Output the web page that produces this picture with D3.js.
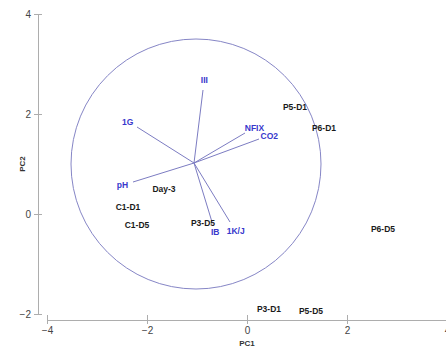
<!DOCTYPE html>
<html><head><meta charset="utf-8">
<script src="https://cdn.jsdelivr.net/npm/d3@7"></script>
<style>body{margin:0;background:#fff}svg{display:block}</style>
</head><body><div id="chart"></div>
<script>
// Sample scores (PC1, PC2)
const sampleNames = ["P5-D1","P6-D1","P6-D5","P3-D1","P5-D5","Day-3","C1-D1","C1-D5","P3-D5"];
const samplePC1 = [0.96, 1.54, 2.72, 0.44, 1.28, -1.66, -2.38, -2.2, -0.88];
const samplePC2 = [2.14, 1.72, -0.3, -1.9, -1.94, 0.5, 0.14, -0.22, -0.18];
// Variable loading vectors (end points, PC1/PC2 space)
const varNames = ["III","1G","NFIX","CO2","pH","IB","1K/J"];
const varPC1 = [-0.88, -2.2, -0.04, 0.24, -2.28, -0.7, -0.34];
const varPC2 = [2.48, 1.74, 1.62, 1.5, 0.64, -0.16, -0.16];
const vecOrigin = [-1.06, 1.02];
const circleCenter = [-1.02, 1.0];
const circleRadius = 2.5;
const xTicks = [-4, -2, 0, 2, 4];
const yTicks = [-2, 0, 2, 4];

const W = 446, H = 354;
const FONT = "Liberation Sans, Arial, sans-serif";
const svg = d3.select("#chart").append("svg").attr("width", W).attr("height", H);
const x = d3.scaleLinear().domain([-4, 4]).range([47, 447]);
const y = d3.scaleLinear().domain([-2, 4]).range([314, 14]);
const axisColor = "#adadad";

// Y axis
const gy = svg.append("g").attr("transform", "translate(38,0)")
  .call(d3.axisLeft(y).tickValues(yTicks).tickSize(0).tickPadding(7).tickFormat(d3.format("d")));
gy.select(".domain").attr("stroke", axisColor);
gy.selectAll(".tick line").remove();
gy.selectAll(".tick").append("line").attr("x1", -4).attr("x2", 4).attr("stroke", axisColor);
gy.selectAll("text").attr("font-family", FONT).attr("font-size", 10).attr("fill", "#444");

// X axis
const gx = svg.append("g").attr("transform", "translate(0,320)")
  .call(d3.axisBottom(x).tickValues(xTicks).tickSize(0).tickPadding(7).tickFormat(d3.format("d")));
gx.select(".domain").attr("stroke", axisColor);
gx.selectAll(".tick line").remove();
gx.selectAll(".tick").append("line").attr("y1", -5).attr("y2", 4).attr("stroke", axisColor);
gx.selectAll("text").attr("font-family", FONT).attr("font-size", 10).attr("fill", "#444");

// Axis titles
svg.append("text").attr("x", x(0)).attr("y", 346).attr("text-anchor", "middle")
  .attr("font-family", FONT).attr("font-size", 8).attr("font-weight", "bold")
  .attr("fill", "#333").text("PC1");
svg.append("text").attr("transform", `translate(25,${y(1)}) rotate(-90)`).attr("text-anchor", "middle")
  .attr("font-family", FONT).attr("font-size", 8).attr("font-weight", "bold")
  .attr("fill", "#333").text("PC2");

// Correlation circle
svg.append("ellipse")
  .attr("cx", x(circleCenter[0])).attr("cy", y(circleCenter[1]))
  .attr("rx", x(circleCenter[0] + circleRadius) - x(circleCenter[0]))
  .attr("ry", y(circleCenter[1]) - y(circleCenter[1] + circleRadius))
  .attr("fill", "none").attr("stroke", "#8686c6").attr("stroke-width", 1);

// Vectors
const ox = x(vecOrigin[0]), oy = y(vecOrigin[1]);
const vecs = varNames.map((n, i) => {
  const ex = x(varPC1[i]), ey = y(varPC2[i]);
  const dx = ex - ox, dy = ey - oy, L = Math.hypot(dx, dy);
  return {name: n, ex, ey, ux: dx / L, uy: dy / L};
});
svg.append("g").selectAll("line").data(vecs).join("line")
  .attr("x1", ox).attr("y1", oy).attr("x2", d => d.ex).attr("y2", d => d.ey)
  .attr("stroke", "#7c7cc2").attr("stroke-width", 1);
svg.append("g").selectAll("text").data(vecs).join("text")
  .attr("x", d => d.ex + d.ux * 11)
  .attr("y", d => d.ey + d.uy * 10)
  .attr("text-anchor", "middle").attr("dominant-baseline", "central")
  .attr("font-family", FONT).attr("font-size", 8.5).attr("font-weight", "bold")
  .attr("fill", "#3838cc").text(d => d.name);

// Sample labels
const samples = sampleNames.map((n, i) => ({name: n, x: samplePC1[i], y: samplePC2[i]}));
svg.append("g").selectAll("text").data(samples).join("text")
  .attr("x", d => x(d.x)).attr("y", d => y(d.y))
  .attr("text-anchor", "middle").attr("dominant-baseline", "central")
  .attr("font-family", FONT).attr("font-size", 8.5).attr("font-weight", "bold")
  .attr("fill", "#1a1a1a").text(d => d.name);
</script></body></html>
